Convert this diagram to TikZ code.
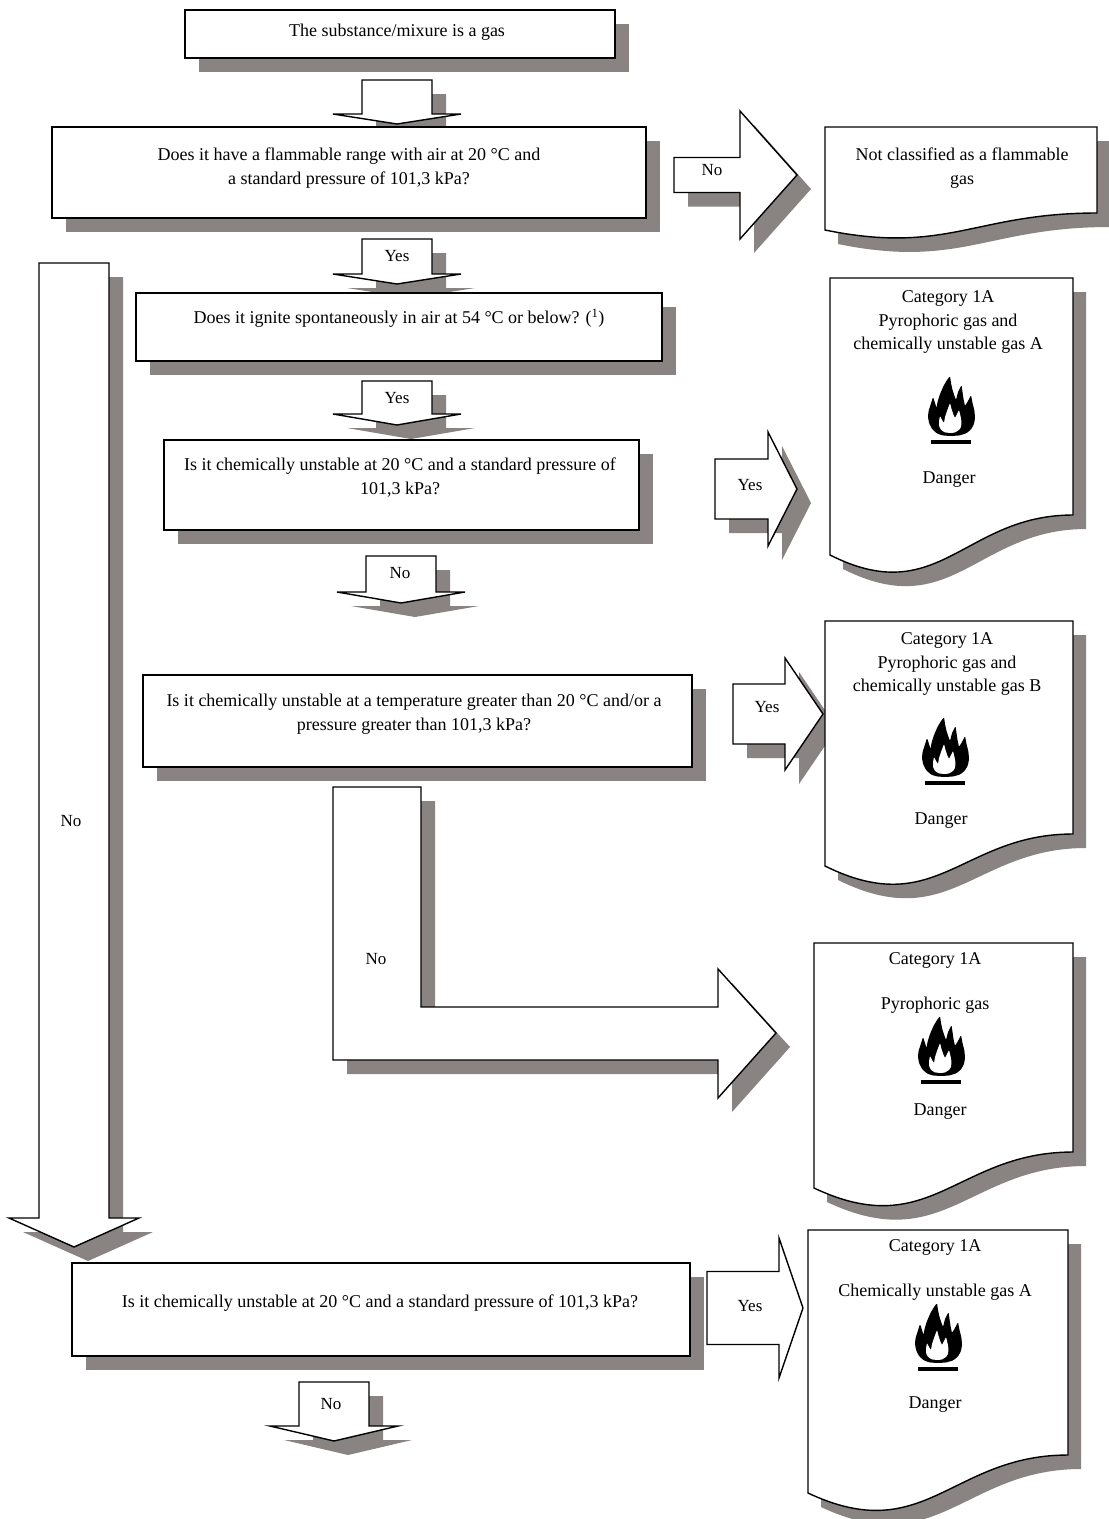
\documentclass[tikz,border=0pt]{standalone}
\usepackage{fontspec}
\setmainfont{Liberation Serif}
\usetikzlibrary{shadows,calc}
\definecolor{shadowc}{RGB}{137,131,130}
% down block arrow: name, cx, body half width, head half width, top, head base, tip
\newcommand{\dnarrow}[7]{%
 \fill[shad, shift={(14,14)}] ({#2-#3},#5) -- ({#2+#3},#5) -- ({#2+#3},#6) -- ({#2+#4},#6) -- (#2,#7) -- ({#2-#4},#6) -- ({#2-#3},#6) -- cycle;
 \draw[outl] ({#2-#3},#5) -- ({#2+#3},#5) -- ({#2+#3},#6) -- ({#2+#4},#6) -- (#2,#7) -- ({#2-#4},#6) -- ({#2-#3},#6) -- cycle;
 \coordinate (#1) at (#2,#7);}
% right block arrow: name, cy, body half width, head half width, left, head base, tip
\newcommand{\rtarrowshadow}[7]{%
 \fill[shad, shift={(14,14)}] (#5,{#2-#3}) -- (#6,{#2-#3}) -- (#6,{#2-#4}) -- (#7,#2) -- (#6,{#2+#4}) -- (#6,{#2+#3}) -- (#5,{#2+#3}) -- cycle;}
\newcommand{\rtarrow}[7]{%
 \draw[outl] (#5,{#2-#3}) -- (#6,{#2-#3}) -- (#6,{#2-#4}) -- (#7,#2) -- (#6,{#2+#4}) -- (#6,{#2+#3}) -- (#5,{#2+#3}) -- cycle;
 \coordinate (#1) at (#7,#2);}
% document shape: name, L, T, R, Yleft, Yright, dip
\newcommand{\docbox}[7]{%
 \fill[shad, shift={(13,14)}] (#2,#3) -- (#4,#3) -- (#4,#6) .. controls ({#2+0.55*(#4-#2)},#6) and ({#2+0.45*(#4-#2)},{#5+#7}) .. (#2,#5) -- cycle;
 \draw[outl] (#2,#3) -- (#4,#3) -- (#4,#6) .. controls ({#2+0.55*(#4-#2)},#6) and ({#2+0.45*(#4-#2)},{#5+#7}) .. (#2,#5) -- cycle;
 \coordinate (#1) at (#2,#3);}
% flame pictogram: name, cx, top
\newcommand{\flame}[3]{%
 \begin{scope}[shift={(#2,#3)}]
 \fill[black, rounded corners=1.2pt] (0,59) -- (-8,58.5) -- (-14,56.5) -- (-19,52) -- (-22,46) -- (-23,40) -- (-22.5,34) -- (-20.5,28) -- (-18,20)
   -- (-16,26) -- (-14.5,31) -- (-13.5,25) -- (-11,17) -- (-7.5,9) -- (-4,3) -- (-1,-1)
   -- (0,6) -- (1.5,13) -- (3.5,19) -- (5,23) -- (7,15) -- (10.5,8)
   -- (11.5,15) -- (12.5,22) -- (14,29) -- (17,24) -- (20,18)
   -- (21.5,26) -- (23.5,34) -- (24,41) -- (23,47) -- (20,52.5) -- (15,56.5) -- (8,58.5) -- cycle;
 \fill[white, rounded corners=0.8pt] (0,56) -- (-6,55.5) -- (-10,53) -- (-12,49) -- (-12,44) -- (-11,39)
   -- (-9,43) -- (-7,46) -- (-6,40) -- (-4,34) -- (-1,26)
   -- (0.5,32) -- (2.5,38) -- (4,41) -- (6,37) -- (8,33)
   -- (9.5,39) -- (10.5,45) -- (10,50) -- (8,53) -- (4,55.5) -- cycle;
 \fill[black] (-20,63) rectangle (20,66.5);
 \coordinate (#1) at (0,0);
 \end{scope}}
\begin{document}
\begin{tikzpicture}[x=1pt,y=-1pt,
 outl/.style={fill=white, draw=black, line width=1.4pt, line join=miter},
 shad/.style={fill=shadowc, draw=none},
 qbox/.style={draw=black, fill=white, line width=1.4pt, inner sep=0pt,
   drop shadow={shadow xshift=14pt, shadow yshift=-14pt, fill=shadowc, opacity=1}},
 qtext/.style={font=\fontsize{18}{23.5}\selectfont, align=center, inner sep=0pt},
 lbl/.style={font=\fontsize{17}{20}\selectfont, inner sep=0pt}]
\useasboundingbox (0,0) rectangle (1109,1519);
\fill[white] (0,0) rectangle (1109,1519);

% ---- block arrows ----
\dnarrow{abig}{74}{35}{65}{263}{1218}{1247}
\dnarrow{a1}{397}{35}{64}{80}{114}{124}
\dnarrow{a2}{397}{35}{64}{239}{274}{284}
\dnarrow{a3}{397}{35}{64}{381}{414}{425}
\dnarrow{a4}{401}{35}{64}{556}{592}{603}
\dnarrow{a5}{334}{35}{64}{1382}{1426}{1441}

% L-shaped arrow
\fill[shad, shift={(14,14)}] (333,787) -- (421,787) -- (421,1007) -- (718,1007) -- (718,969) -- (776,1033) -- (718,1098) -- (718,1060) -- (333,1060) -- cycle;
\draw[outl] (333,787) -- (421,787) -- (421,1007) -- (718,1007) -- (718,969) -- (776,1033) -- (718,1098) -- (718,1060) -- (333,1060) -- cycle;
\coordinate (aL) at (776,1033);

\rtarrowshadow{r1}{175}{17.5}{64}{674}{740}{797}
\rtarrow{r1}{175}{17.5}{64}{674}{740}{797}
\rtarrowshadow{r2}{489}{30}{57}{715}{768}{797}
\rtarrow{r2}{489}{30}{57}{715}{768}{797}
\rtarrowshadow{r3}{714}{30}{56}{733}{785}{823}
\rtarrow{r3}{714}{30}{56}{733}{785}{823}
\rtarrow{r4}{1308}{36.5}{70}{707}{779}{803}

% ---- question boxes ----
\node[qbox, minimum width=430pt, minimum height=48pt] (q1) at (400,34) {};
\node[qbox, minimum width=594pt, minimum height=91pt] (q2) at (349,172.5) {};
\node[qbox, minimum width=526pt, minimum height=68pt] (q3) at (399,327) {};
\node[qbox, minimum width=475pt, minimum height=90pt] (q4) at (401.5,485) {};
\node[qbox, minimum width=549pt, minimum height=92pt] (q5) at (417.5,721) {};
\node[qbox, minimum width=618pt, minimum height=93pt] (q6) at (381,1309.5) {};

\node[qtext] (t1) at (397,32) {The substance/mixure is a gas};
\node[qtext] (t2) at (349,168) {Does it have a flammable range with air at 20~°C and\\a standard pressure of 101,3 kPa?};
\node[qtext] (t3) at (399,318) {Does it ignite spontaneously in air at 54~°C or below? (\textsuperscript{1})};
\node[qtext] (t4) at (400,477.5) {Is it chemically unstable at 20~°C and a standard pressure of\\101,3 kPa?};
\node[qtext] (t5) at (414,714) {Is it chemically unstable at a temperature greater than 20~°C and/or a\\pressure greater than 101,3 kPa?};
\node[qtext] (t6) at (380,1303) {Is it chemically unstable at 20~°C and a standard pressure of 101,3 kPa?};

% ---- result documents ----
\docbox{d0}{825}{127}{1097}{230}{213}{25}
\docbox{d1}{830}{278}{1073}{555}{515}{55}
\docbox{d2}{825}{621}{1073}{866}{834}{55}
\docbox{d3}{814}{943}{1073}{1188}{1152}{55}
\docbox{d4}{808}{1230}{1068}{1493}{1455}{55}

\node[qtext] (dt0) at (962,168) {Not classified as a flammable\\gas};
\node[qtext] (dt1) at (948,322) {Category 1A\\Pyrophoric gas and\\chemically unstable gas A};
\node[qtext] (dg1) at (949,480) {Danger};
\node[qtext] (dt2) at (947,664) {Category 1A\\Pyrophoric gas and\\chemically unstable gas B};
\node[qtext] (dg2) at (941,821) {Danger};
\node[qtext] (dc3) at (935,960) {Category 1A};
\node[qtext] (dt3) at (935,1005) {Pyrophoric gas};
\node[qtext] (dg3) at (940,1112) {Danger};
\node[qtext] (dc4) at (935,1247) {Category 1A};
\node[qtext] (dt4) at (935,1292) {Chemically unstable gas A};
\node[qtext] (dg4) at (935,1405) {Danger};

\flame{f1}{951}{377}
\flame{f2}{945}{718}
\flame{f3}{941}{1017}
\flame{f4}{938}{1304}

% ---- arrow labels ----
\node[lbl] (l1) at (712,170) {No};
\node[lbl] (l2) at (397,256) {Yes};
\node[lbl] (l3) at (397,398) {Yes};
\node[lbl] (l4) at (750,485) {Yes};
\node[lbl] (l5) at (400,573) {No};
\node[lbl] (l6) at (767,707) {Yes};
\node[lbl] (l7) at (71,821) {No};
\node[lbl] (l8) at (376,959) {No};
\node[lbl] (l9) at (750,1306) {Yes};
\node[lbl] (l10) at (331,1404) {No};
\end{tikzpicture}
\end{document}
